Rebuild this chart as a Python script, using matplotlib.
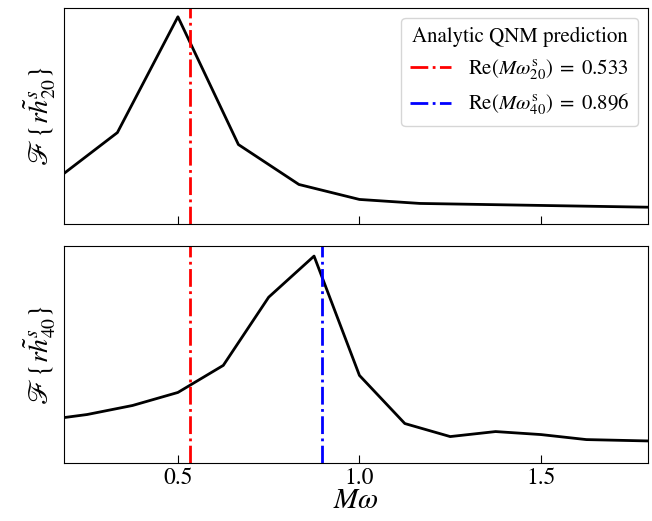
import matplotlib
matplotlib.use("Agg")
import matplotlib.pyplot as plt
from matplotlib.lines import Line2D

plt.rcParams['font.family'] = 'STIXGeneral'
plt.rcParams['mathtext.fontset'] = 'stix'

# Top panel: spectrum of r h_20
x20 = [1/6, 2/6, 3/6, 4/6, 5/6, 1.0, 7/6, 8/6, 9/6, 10/6, 11/6]
y20 = [45.6, 92, 208, 80, 40, 25, 21, 20, 19, 18, 17]

# Bottom panel: spectrum of r h_40
x40 = [0.125, 0.25, 0.375, 0.5, 0.625, 0.75, 0.875, 1.0, 1.125, 1.25, 1.375, 1.5, 1.625, 1.75, 1.875]
y40 = [42, 48, 57, 70, 97, 165, 206, 87, 39, 26, 31, 28, 23, 22, 21]

qnm20 = 0.533
qnm40 = 0.896
xticks = [0.5, 1.0, 1.5]
xticklabels = ['0.5', '1.0', '1.5']

fig, (ax1, ax2) = plt.subplots(2, 1, figsize=(6.52, 5.21), dpi=100, sharex=True)
fig.subplots_adjust(left=0.098, right=0.994, top=0.985, bottom=0.112, hspace=0.1)

ax1.plot(x20, y20, color='k', lw=2)
ax1.axvline(qnm20, color='red', ls='-.', lw=2)
ax1.set_ylim(0, 217)

ax2.plot(x40, y40, color='k', lw=2)
ax2.axvline(qnm20, color='red', ls='-.', lw=2)
ax2.axvline(qnm40, color='blue', ls='-.', lw=2)
ax2.set_ylim(0, 216)

ax2.set_xlim(0.186, 1.795)
ax2.set_xticks(xticks)
ax2.set_xticklabels(xticklabels)

for ax in (ax1, ax2):
    ax.set_yticks([])
    ax.tick_params(axis='x', direction='in', length=6, labelsize=17)

ax1.set_ylabel(r'$\mathscr{F}\,\{r\tilde{h}^s_{20}\}$', fontsize=20)
ax2.set_ylabel(r'$\mathscr{F}\,\{r\tilde{h}^s_{40}\}$', fontsize=20)
ax2.set_xlabel(r'$M\omega$', fontsize=21, labelpad=0)

handles = [Line2D([], [], color='red', ls='-.', lw=2),
           Line2D([], [], color='blue', ls='-.', lw=2)]
labels = [r'$\mathrm{Re}(M\omega^{\mathrm{s}}_{20})\;=\;0.533$',
          r'$\mathrm{Re}(M\omega^{\mathrm{s}}_{40})\;=\;0.896$']
leg = ax1.legend(handles, labels, title='Analytic QNM prediction', loc='upper right',
                 fontsize=15, title_fontsize=15)

fig.savefig('out.png', dpi=100)
